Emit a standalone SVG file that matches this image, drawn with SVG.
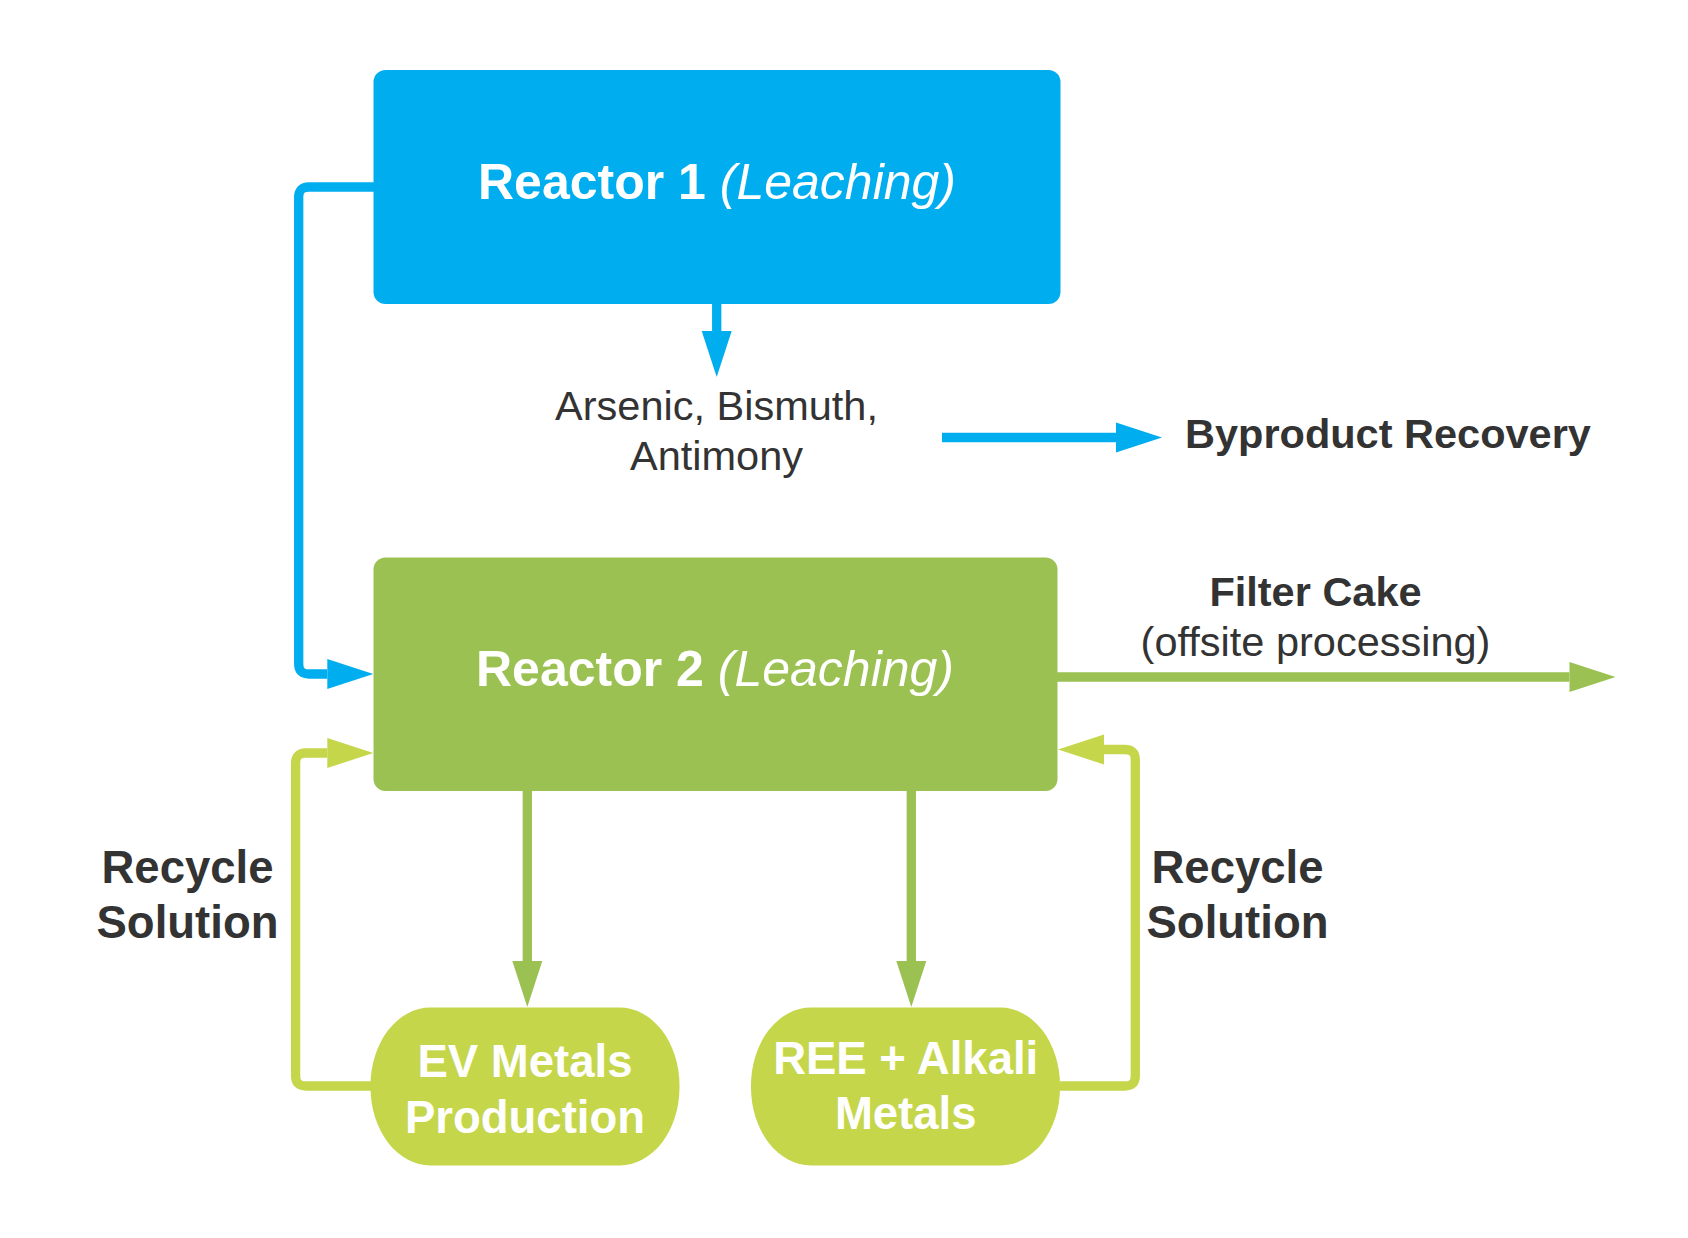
<svg xmlns="http://www.w3.org/2000/svg" width="1688" height="1238" viewBox="0 0 1688 1238">
  <style>
    .lbl { font-family: "Liberation Sans", Arial, sans-serif; fill: #333333; }
    .wht { font-family: "Liberation Sans", Arial, sans-serif; fill: #ffffff; }
    .b { font-weight: bold; }
    .i { font-style: italic; font-weight: normal; }
    .c { text-anchor: middle; }
    .conn { fill: none; stroke-width: 9.3; stroke-linejoin: round; }
    .blue { stroke: #00AEEF; }
    .green { stroke: #9BC152; }
    .lime { stroke: #C5D64B; }
  </style>
  <defs>
    <marker id="ahBlue" markerUnits="userSpaceOnUse" markerWidth="46" markerHeight="30" refX="0" refY="15" orient="auto" overflow="visible">
      <path d="M0,0 L46,15 L0,30 Z" fill="#00AEEF"/>
    </marker>
    <marker id="ahGreen" markerUnits="userSpaceOnUse" markerWidth="46" markerHeight="30" refX="0" refY="15" orient="auto" overflow="visible">
      <path d="M0,0 L46,15 L0,30 Z" fill="#9BC152"/>
    </marker>
    <marker id="ahLime" markerUnits="userSpaceOnUse" markerWidth="46" markerHeight="30" refX="0" refY="15" orient="auto" overflow="visible">
      <path d="M0,0 L46,15 L0,30 Z" fill="#C5D64B"/>
    </marker>
  </defs>

  <rect width="1688" height="1238" fill="#ffffff"/>

  <g id="connectors">
    <path class="conn blue" d="M374,187 H309 Q298.7,187 298.7,197 V664 Q298.7,674 309,674 H327.3" marker-end="url(#ahBlue)"/>
    <path class="conn blue" d="M716.7,303 V331" marker-end="url(#ahBlue)"/>
    <path class="conn blue" d="M942,437.5 H1116" marker-end="url(#ahBlue)"/>
    <path class="conn green" d="M1057,677 H1569.5" marker-end="url(#ahGreen)"/>
    <path class="conn green" d="M527.3,790 V961" marker-end="url(#ahGreen)"/>
    <path class="conn green" d="M911.3,790 V961" marker-end="url(#ahGreen)"/>
    <path class="conn lime" d="M371,1086 H306 Q295.6,1086 295.6,1076 V763 Q295.6,753 306,753 H327.3" marker-end="url(#ahLime)"/>
    <path class="conn lime" d="M1059.5,1086 H1125 Q1135.3,1086 1135.3,1076 V759.5 Q1135.3,749.5 1125,749.5 H1104" marker-end="url(#ahLime)"/>
  </g>

  <g id="reactor1">
    <rect x="373.5" y="70" width="687" height="234" rx="12" ry="12" fill="#00AEEF"/>
    <text class="wht c" x="717" y="199" font-size="50"><tspan class="b">Reactor 1 </tspan><tspan class="i">(Leaching)</tspan></text>
  </g>

  <g id="byproducts">
    <text class="lbl c" x="716.5" y="419.5" font-size="41.5">Arsenic, Bismuth,</text>
    <text class="lbl c" x="716.5" y="469.5" font-size="41.5">Antimony</text>
  </g>

  <g id="byproduct-recovery">
    <text class="lbl b" x="1185" y="447.5" font-size="41.5">Byproduct Recovery</text>
  </g>

  <g id="reactor2">
    <rect x="373.5" y="557.5" width="684" height="233.5" rx="12" ry="12" fill="#9BC152"/>
    <text class="wht c" x="715" y="686" font-size="50"><tspan class="b">Reactor 2 </tspan><tspan class="i">(Leaching)</tspan></text>
  </g>

  <g id="filter-cake">
    <text class="lbl b c" x="1315.5" y="606" font-size="41.5">Filter Cake</text>
    <text class="lbl c" x="1315.5" y="656" font-size="41.5">(offsite processing)</text>
  </g>

  <g id="recycle-left">
    <text class="lbl b c" x="187.5" y="883.3" font-size="45.5">Recycle</text>
    <text class="lbl b c" x="187.5" y="938.3" font-size="45.5">Solution</text>
  </g>

  <g id="recycle-right">
    <text class="lbl b c" x="1237.5" y="883.3" font-size="45.5">Recycle</text>
    <text class="lbl b c" x="1237.5" y="938.3" font-size="45.5">Solution</text>
  </g>

  <g id="ev-metals">
    <rect x="370.5" y="1007.5" width="309" height="158" rx="60" ry="78" fill="#C5D64B"/>
    <text class="wht b c" x="525" y="1077.3" font-size="45.5">EV Metals</text>
    <text class="wht b c" x="525" y="1132.7" font-size="45.5">Production</text>
  </g>

  <g id="ree-alkali">
    <rect x="751" y="1007.5" width="309" height="158" rx="60" ry="78" fill="#C5D64B"/>
    <text class="wht b c" x="905.7" y="1074.4" font-size="45.5">REE + Alkali</text>
    <text class="wht b c" x="905.7" y="1129" font-size="45.5">Metals</text>
  </g>
</svg>
